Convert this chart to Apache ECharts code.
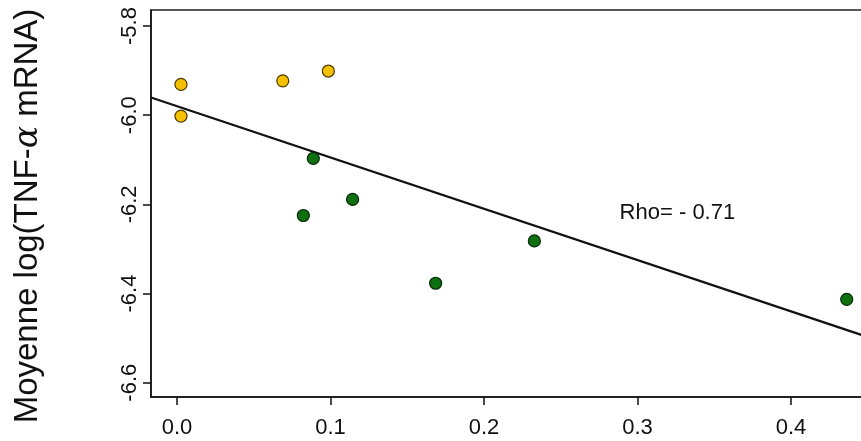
<!DOCTYPE html>
<html>
<head>
<meta charset="utf-8">
<script src="https://cdn.jsdelivr.net/npm/echarts@6/dist/echarts.min.js"></script>
<style>
html,body{margin:0;padding:0;background:#fff;}
#chart{width:861px;height:441px;}
</style>
</head>
<body>
<div id="chart"></div>
<script>
// Data
const yellowX = [0.0026, 0.0026, 0.0689, 0.0986];
const yellowY = [-5.931, -6.002, -5.923, -5.901];
const greenX = [0.0888, 0.1144, 0.0823, 0.1685, 0.2328, 0.4363];
const greenY = [-6.097, -6.189, -6.225, -6.377, -6.282, -6.413];
const fitIntercept = -5.980;
const fitSlope = -1.150;
const xTicks = [0, 0.1, 0.2, 0.3, 0.4];
const yTicks = [-6.6, -6.4, -6.2, -6.0, -5.8];
const rhoLabel = 'Rho= - 0.71';
const rhoPos = [0.326, -6.219];
const yTitle = 'Moyenne log(TNF-{a|α} mRNA)';

const xMin = -0.01694, xMax = 0.45212;
const yMin = -6.6321, yMax = -5.7641;

const zip = (a, b) => a.map((v, i) => [v, b[i]]);
const fitLine = [[xMin, fitIntercept + fitSlope * xMin], [xMax, fitIntercept + fitSlope * xMax]];

const font = 'Liberation Sans, Arial, sans-serif';
const chart = echarts.init(document.getElementById('chart'), null, {renderer: 'canvas'});
chart.setOption({
  animation: false,
  backgroundColor: '#ffffff',
  grid: {left: 151, top: 10, bottom: 44, right: -10, show: true, borderColor: '#222', borderWidth: 1.5, containLabel: false, outerBoundsMode: 'none'},
  graphic: [{
    type: 'text', x: 28, y: 216, rotation: Math.PI / 2,
    style: {
      text: yTitle, fill: '#111', font: '33px Liberation Sans, Arial, sans-serif',
      align: 'center', verticalAlign: 'middle',
      rich: {a: {fontSize: 33, fontStyle: 'italic', fontFamily: 'DejaVu Serif, serif', fill: '#111'}}
    }
  }],
  xAxis: {
    type: 'value', min: xMin, max: xMax,
    splitLine: {show: false},
    axisLine: {show: true, onZero: false, lineStyle: {color: '#111', width: 1.5}},
    axisTick: {show: true, length: 8, lineStyle: {color: '#111', width: 1.5}, customValues: xTicks},
    axisLabel: {customValues: xTicks, formatter: v => v.toFixed(1), fontSize: 22, color: '#111', fontFamily: font, margin: 20}
  },
  yAxis: {
    type: 'value', min: yMin, max: yMax,
    splitLine: {show: false},
    axisLine: {show: true, onZero: false, lineStyle: {color: '#111', width: 1.5}},
    axisTick: {show: true, length: 8, lineStyle: {color: '#111', width: 1.5}, customValues: yTicks},
    axisLabel: {customValues: yTicks, formatter: v => v.toFixed(1), rotate: 90, fontSize: 22, color: '#111', fontFamily: font, margin: 10}
  },
  series: [
    {
      type: 'line', data: fitLine, showSymbol: false, symbol: 'none',
      lineStyle: {color: '#111', width: 2.2}, z: 1, silent: true
    },
    {
      type: 'scatter', data: zip(yellowX, yellowY), symbolSize: 12,
      itemStyle: {color: '#F6C000', borderColor: '#4a3a00', borderWidth: 1.2, opacity: 1}, z: 3
    },
    {
      type: 'scatter', data: zip(greenX, greenY), symbolSize: 12,
      itemStyle: {color: '#0F700F', borderColor: '#062806', borderWidth: 1.2, opacity: 1}, z: 3
    },
    {
      type: 'scatter', data: [rhoPos], symbolSize: 0, itemStyle: {opacity: 1},
      label: {show: true, position: 'inside', formatter: rhoLabel, fontSize: 22, color: '#111', opacity: 1, fontFamily: font},
      silent: true, z: 4
    }
  ]
});
</script>
</body>
</html>
